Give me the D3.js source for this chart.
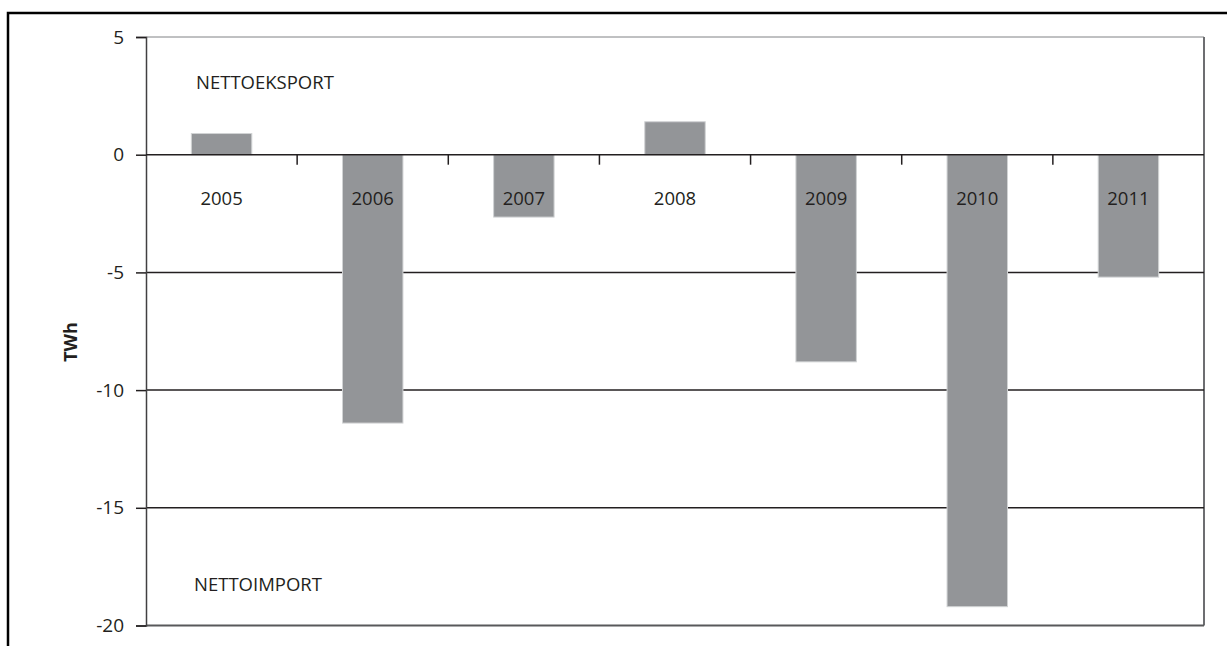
<!DOCTYPE html>
<html>
<head>
<meta charset="utf-8">
<script src="https://cdn.jsdelivr.net/npm/d3@7"></script>
<style>
  body { margin: 0; background: #fff; }
  svg text { font-family: "Open Sans", "Noto Sans", sans-serif; fill: #231f20; }
</style>
</head>
<body>
<div id="chart"></div>
<script>
// net export of electricity, TWh
var years = ["2005", "2006", "2007", "2008", "2009", "2010", "2011"];
var netExport = [0.9, -11.4, -2.65, 1.4, -8.8, -19.2, -5.2];
var yTicks = [5, 0, -5, -10, -15, -20];

var W = 1227, H = 646;
var margin = {top: 37, right: 23, bottom: 20, left: 146};
var width = W - margin.left - margin.right,
    height = 625.5 - margin.top;

var svg = d3.select("#chart").append("svg")
    .attr("width", W)
    .attr("height", H);

// outer frame (runs off the page at right and bottom)
svg.append("rect")
    .attr("x", 8).attr("y", 13)
    .attr("width", 1320).attr("height", 700)
    .attr("fill", "none")
    .attr("stroke", "#000")
    .attr("stroke-width", 2.5);

var g = svg.append("g")
    .attr("transform", "translate(" + margin.left + "," + margin.top + ")");

var x = d3.scaleBand().domain(years).range([0, width]).paddingInner(0.6).paddingOuter(0.3);
var y = d3.scaleLinear().domain([-20, 5]).range([height, 0]);

// plot area border
g.append("line").attr("x1", 0).attr("x2", width).attr("y1", 0).attr("y2", 0)
    .attr("stroke", "#808285").attr("stroke-width", 1);
g.append("line").attr("x1", width).attr("x2", width).attr("y1", 0).attr("y2", height)
    .attr("stroke", "#6d6e71").attr("stroke-width", 2);
g.append("line").attr("x1", 0).attr("x2", width).attr("y1", height).attr("y2", height)
    .attr("stroke", "#58595b").attr("stroke-width", 2);

// gridlines
g.selectAll(".grid")
    .data(yTicks.filter(function(d) { return d < 0 && d > -20; }))
  .enter().append("line")
    .attr("class", "grid")
    .attr("x1", 0).attr("x2", width)
    .attr("y1", function(d) { return y(d); })
    .attr("y2", function(d) { return y(d); })
    .attr("stroke", "#231f20")
    .attr("stroke-width", 1.5);

// bars
g.selectAll(".bar")
    .data(netExport)
  .enter().append("rect")
    .attr("class", "bar")
    .attr("x", function(d, i) { return x(years[i]); })
    .attr("width", x.bandwidth())
    .attr("y", function(d) { return y(Math.max(0, d)); })
    .attr("height", function(d) { return Math.abs(y(d) - y(0)); })
    .attr("fill", "#939598")
    .attr("stroke", "#d1d3d4")
    .attr("stroke-width", 1);

// y axis
var yAxis = g.append("g")
    .call(d3.axisLeft(y).tickValues(yTicks).tickSize(10).tickPadding(12)
        .tickFormat(function(d) { return String(d); }));
yAxis.select(".domain").attr("stroke", "#414042").attr("stroke-width", 1.5);
yAxis.selectAll(".tick line").attr("stroke", "#231f20").attr("stroke-width", 1.5);
yAxis.selectAll(".tick text").attr("font-size", 19).attr("fill", "#231f20")
    .style("font-family", '"Open Sans", sans-serif');

// zero line with ticks between categories
g.append("line").attr("x1", 0).attr("x2", width).attr("y1", y(0)).attr("y2", y(0))
    .attr("stroke", "#231f20").attr("stroke-width", 1.5);
var step = x.step();
g.selectAll(".xtick")
    .data(years.slice(1))
  .enter().append("line")
    .attr("class", "xtick")
    .attr("x1", function(d) { return x(d) - step * 0.3; })
    .attr("x2", function(d) { return x(d) - step * 0.3; })
    .attr("y1", y(0)).attr("y2", y(0) + 10)
    .attr("stroke", "#231f20").attr("stroke-width", 1.5);

// year labels under the zero line
g.selectAll(".year")
    .data(years)
  .enter().append("text")
    .attr("class", "year")
    .attr("x", function(d) { return x(d) + x.bandwidth() / 2; })
    .attr("y", 205 - margin.top)
    .attr("text-anchor", "middle")
    .attr("font-size", 18.5)
    .text(function(d) { return d; });

// annotations
svg.append("text").attr("x", 196).attr("y", 89).attr("font-size", 18.5).text("NETTOEKSPORT");
svg.append("text").attr("x", 194).attr("y", 591).attr("font-size", 18.5).text("NETTOIMPORT");

svg.append("text")
    .attr("transform", "translate(77,342) rotate(-90)")
    .attr("text-anchor", "middle")
    .attr("font-size", 18)
    .attr("font-weight", "bold")
    .text("TWh");
</script>
</body>
</html>
